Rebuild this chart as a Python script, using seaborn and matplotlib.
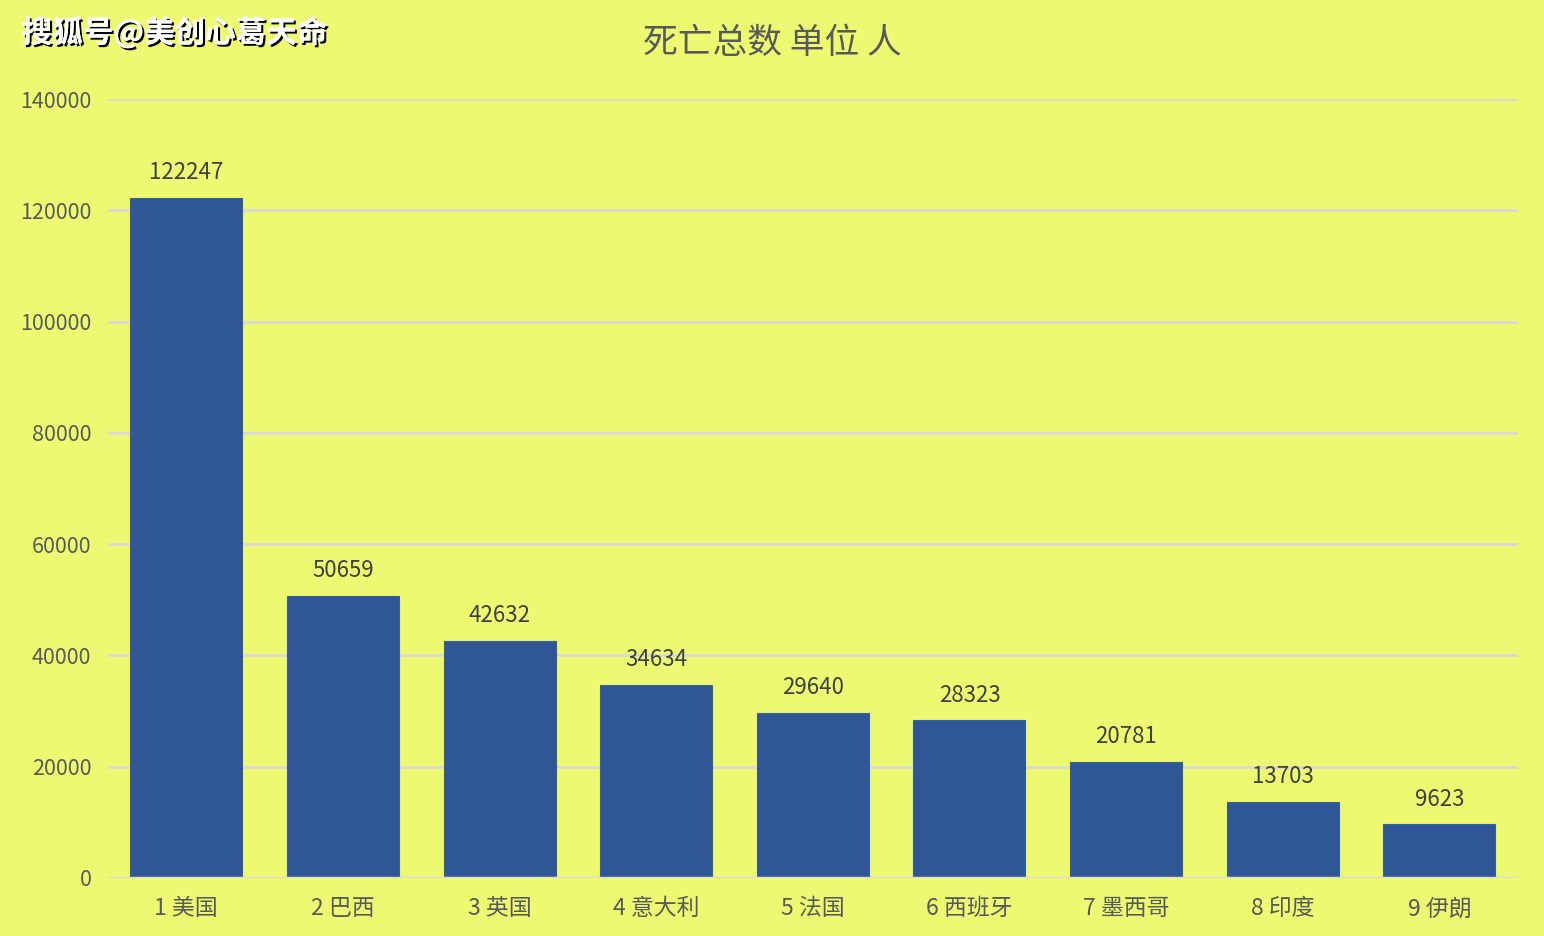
import numpy as np
import pandas as pd
import seaborn as sns
import matplotlib.pyplot as plt
import matplotlib.patheffects as pe

# Data
countries = ['1 美国', '2 巴西', '3 英国', '4 意大利', '5 法国', '6 西班牙', '7 墨西哥', '8 印度', '9 伊朗']
deaths = [122247, 50659, 42632, 34634, 29640, 28323, 20781, 13703, 9623]
yticks = [0, 20000, 40000, 60000, 80000, 100000, 120000, 140000]

df = pd.DataFrame({'country': countries, 'deaths': deaths})

bg = '#EDF971'
bar_color = '#2F5795'
grid_color = '#D9D9D9'
text_gray = '#595959'

sns.set_theme(style='white')
plt.rcParams['font.family'] = ['Noto Sans CJK SC', 'DejaVu Sans']

fig = plt.figure(figsize=(15.44, 9.36), dpi=100, facecolor=bg)
ax = fig.add_axes([0.0699, 0.062, 0.9131, 0.832])
ax.set_facecolor(bg)

sns.barplot(data=df, x='country', y='deaths', color=bar_color, width=0.715,
            saturation=1, ax=ax, zorder=3, edgecolor='#3A5F96', linewidth=0.8)

ax.set_ylim(0, 140000)
ax.set_xlim(-0.5, len(countries) - 0.5)
ax.set_yticks(yticks)
ax.set_yticklabels([str(v) for v in yticks], fontsize=15.5, color=text_gray)
ax.tick_params(axis='x', labelsize=16.5, labelcolor=text_gray, length=0, pad=14)
ax.tick_params(axis='y', length=0, pad=12)
ax.yaxis.grid(True, color=grid_color, linewidth=2, zorder=0)
ax.set_axisbelow(True)
for s in ax.spines.values():
    s.set_visible(False)
ax.axhline(0, color=grid_color, linewidth=2.5, zorder=4)
ax.set_xlabel('')
ax.set_ylabel('')

# Data labels
for i, v in enumerate(deaths):
    ax.text(i, v + 2500, str(v), ha='center', va='bottom', fontsize=16, color='#404040')

fig.text(0.5, 0.953, '死亡总数 单位 人', ha='center', va='center', fontsize=25, color=text_gray)

wm = fig.text(0.014, 0.965, '搜狐号@美创心葛天命', ha='left', va='center', fontsize=22,
              fontweight='bold', color='white')
wm.set_path_effects([pe.withSimplePatchShadow(offset=(1.5, -1.5), shadow_rgbFace='black', alpha=1),
                     pe.Normal()])

fig.savefig('out.png', dpi=100, facecolor=bg)
